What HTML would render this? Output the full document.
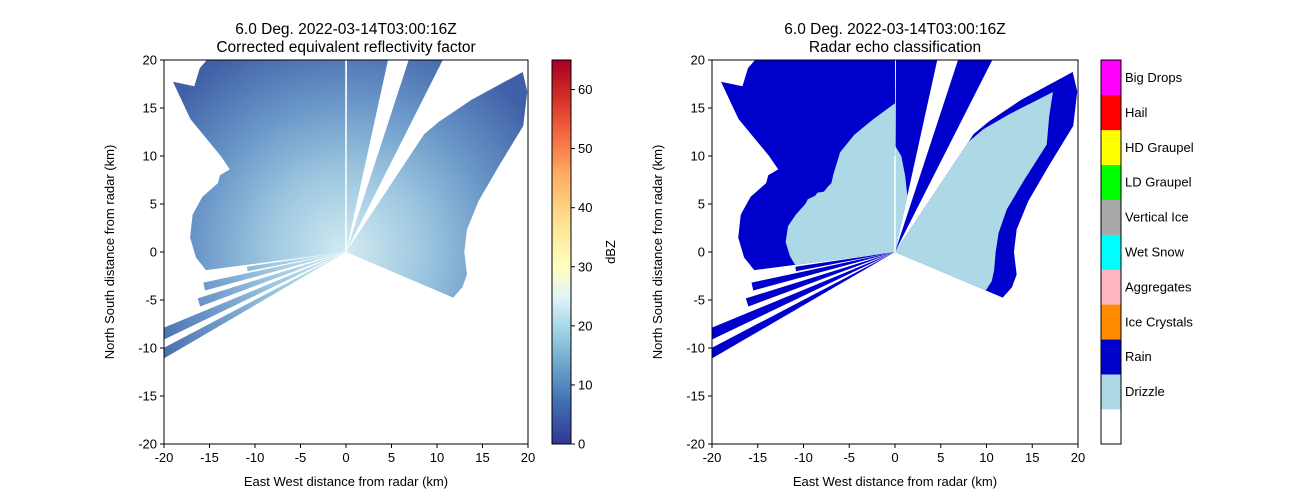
<!DOCTYPE html>
<html><head><meta charset="utf-8"><style>
body{margin:0;background:#fff;}
svg{display:block;font-family:"Liberation Sans","DejaVu Sans",sans-serif;}
</style></head><body>
<svg id="fig" width="1300" height="500" viewBox="0 0 1300 500">
<defs>
<linearGradient id="cmap" x1="0" y1="1" x2="0" y2="0">
<stop offset="0" stop-color="#313695"/><stop offset="0.12" stop-color="#4575b4"/><stop offset="0.22" stop-color="#74add1"/><stop offset="0.31" stop-color="#abd9e9"/><stop offset="0.38" stop-color="#e0f3f8"/><stop offset="0.46" stop-color="#ffffbf"/><stop offset="0.58" stop-color="#fee090"/><stop offset="0.7" stop-color="#fdae61"/><stop offset="0.8" stop-color="#f46d43"/><stop offset="0.9" stop-color="#d73027"/><stop offset="1" stop-color="#a50026"/>
</linearGradient>
<radialGradient id="refl" gradientUnits="userSpaceOnUse" cx="346" cy="252" r="230">
<stop offset="0" stop-color="#d2ebf2"/><stop offset="0.35" stop-color="#9cc6df"/><stop offset="0.65" stop-color="#6a97c8"/><stop offset="1" stop-color="#3f5fa6"/>
</radialGradient>
<clipPath id="clipL"><rect x="164" y="60" width="364" height="384"/></clipPath>
<clipPath id="clipR"><rect x="712" y="60" width="366" height="384"/></clipPath>
</defs>
<g id="left"></g>
<g id="right"></g>
</svg>
<script>
// echo sectors: azimuth (deg, clockwise from north) and range (km)
const nwAz = [263,268,275,283,290,297,300,304,306,309,313,316,320,330,340,350,360];
const nwRange = [15.5,16.5,17.2,17.3,16.8,15.8,16,15.4,17,22,26,24,25,26,23,21,20.5];
const nwInner = [11,11.5,12,12,11.5,11,11,10.5,10.5,10,10,10,10.5,12,13,14,15.5];
const nAz = [0.3,4,8,13];
const nRange = [25,25,25,25];
const nInner = [11,10,8,6];
const neAz = [19,22,25,28];
const neRange = [25,26,26,26];
const eAz = [35,37,41,46,50,56,62,70,80,90,100,106,112];
const eRange = [15,17,21,27,26,23.5,19,15.5,13.5,13,13.5,13.3,12.7];
const eInner = [14,16,19,24,22,20,16,13,11.5,11,11,11,10.7];
const swStart = [241,245.5,250.5,255.5,259.5];
const swEnd = [243.5,248.5,253.5,258.5,262];
const swRange = [23,22,17,16,11];
const dbzTicks = [0,10,20,30,40,50,60];
const xTicks = [-20,-15,-10,-5,0,5,10,15,20];
const yTicks = [-20,-15,-10,-5,0,5,10,15,20];
const classLabels = ["","Drizzle","Rain","Ice Crystals","Aggregates","Wet Snow","Vertical Ice","LD Graupel","HD Graupel","Hail","Big Drops"];
const classColors = ["#ffffff","#add8e6","#0000cd","#ff8c00","#ffb6c1","#00ffff","#a9a9a9","#00ff00","#ffff00","#ff0000","#ff00ff"];

const NS="http://www.w3.org/2000/svg";
function mk(tag,attrs,parent){const e=document.createElementNS(NS,tag);for(const k in attrs)e.setAttribute(k,attrs[k]);parent.appendChild(e);return e;}

function panel(g, x0, x1, clipId, title2, mode){
  const y0=60,y1=444;
  const sx=v=>x0+(v+20)/40*(x1-x0);
  const sy=v=>y1-(v+20)/40*(y1-y0);
  const pt=(az,r)=>{const a=az*Math.PI/180;return sx(r*Math.sin(a))+','+sy(r*Math.cos(a));};
  const poly=(azs,rs)=>{let p=[pt(0,0)];azs.forEach((a,i)=>p.push(pt(a,rs[i])));return p.join(' ');};
  const data=mk('g',{'clip-path':'url(#'+clipId+')'},g);
  
  
  const outer = mode==='refl'?'url(#refl)':'#0000cd';
  const groups=[[nwAz,nwRange,'nw-echo'],[nAz,nRange,'north-echo'],[neAz,neRange,'northeast-strip'],[eAz,eRange,'east-echo']];
  groups.forEach(([a,r,n])=>{
    const p=mk('polygon',{points:poly(a,r),fill:outer},data);
    
    
  });
  swStart.forEach((s,i)=>{
    const p=mk('polygon',{points:poly([s,swEnd[i]],[swRange[i],swRange[i]]),fill:outer},data);
    
    
  });
  if(mode==='class'){
    [[nwAz,nwInner],[nAz,nInner],[eAz,eInner]].forEach(([a,r])=>{
      const p=mk('polygon',{points:poly(a,r),fill:'#add8e6'},data);
      
      
    });
  }
  mk('line',{x1:sx(0),y1:sy(0),x2:sx(0),y2:sy(mode==='refl'?20:10),stroke:'#fff','stroke-width':1.5},data);
  const fr=mk('rect',{x:x0,y:y0,width:x1-x0,height:y1-y0,fill:'none',stroke:'#000','stroke-width':1},g);
  
  
  xTicks.forEach(t=>{
    mk('line',{x1:sx(t),x2:sx(t),y1:y1,y2:y1+4,stroke:'#000'},g);
    const tx=mk('text',{x:sx(t),y:y1+18,'font-size':13,'text-anchor':'middle'},g);tx.textContent=t;
    
    
  });
  yTicks.forEach(t=>{
    mk('line',{x1:x0-4,x2:x0,y1:sy(t),y2:sy(t),stroke:'#000'},g);
    const tx=mk('text',{x:x0-7,y:sy(t)+4.5,'font-size':13,'text-anchor':'end'},g);tx.textContent=t;
    
    
  });
  const cx=(x0+x1)/2;
  const t1=mk('text',{x:cx,y:34,'font-size':15.5,'text-anchor':'middle'},g);t1.textContent='6.0 Deg. 2022-03-14T03:00:16Z';
  
  
  const t2=mk('text',{x:cx,y:52,'font-size':15.5,'text-anchor':'middle'},g);t2.textContent=title2;
  
  
  const xl=mk('text',{x:cx,y:486,'font-size':13,'text-anchor':'middle'},g);xl.textContent='East West distance from radar (km)';
  
  
  const yl=mk('text',{x:0,y:0,'font-size':13,'text-anchor':'middle',transform:'translate('+(x0-50)+',252) rotate(-90)'},g);yl.textContent='North South distance from radar (km)';
  
  
}
const L=document.getElementById('left'), R=document.getElementById('right');
panel(L,164,528,'clipL','Corrected equivalent reflectivity factor','refl');
panel(R,712,1078,'clipR','Radar echo classification','class');

const cb=mk('rect',{x:552,y:60,width:19,height:384,fill:'url(#cmap)',stroke:'#000'},L);


const cy=v=>444-v/65*384;
dbzTicks.forEach(t=>{
  mk('line',{x1:571,x2:575,y1:cy(t),y2:cy(t),stroke:'#000'},L);
  const tx=mk('text',{x:578,y:cy(t)+4.5,'font-size':13},L);tx.textContent=t;
  
  
});
const dl=mk('text',{x:0,y:0,'font-size':13,'text-anchor':'middle',transform:'translate(615,252) rotate(-90)'},L);dl.textContent='dBZ';



const bh=384/classColors.length;
classColors.forEach((c,i)=>{
  const r=mk('rect',{x:1101,y:444-(i+1)*bh,width:20,height:bh+0.3,fill:c},R);
  
  
  if(classLabels[i]){
    const tx=mk('text',{x:1125,y:444-(i+0.5)*bh+4.5,'font-size':13},R);tx.textContent=classLabels[i];
    
    
  }
});
const cf=mk('rect',{x:1101,y:60,width:20,height:384,fill:'none',stroke:'#000'},R);


</script>
</body></html>
